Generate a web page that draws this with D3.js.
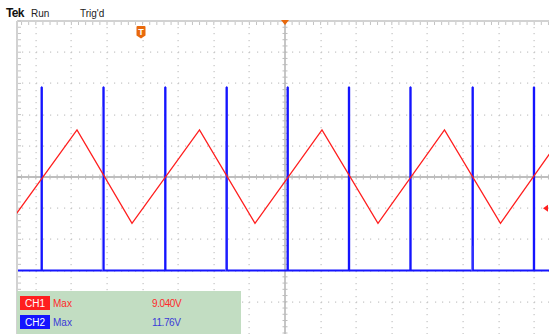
<!DOCTYPE html>
<html>
<head>
<meta charset="utf-8">
<script src="https://cdn.jsdelivr.net/npm/d3@7"></script>
<style>
  html, body { margin: 0; padding: 0; background: #fff; }
  svg { display: block; }
  text { font-family: "Liberation Sans", Arial, sans-serif; }
</style>
</head>
<body>
<svg id="scope" width="549" height="334"></svg>
<script>
// Channel 1: triangle wave vertices (time in divisions from trigger, volts)
const ch1Times = [-7.739, -5.843, -4.298, -2.402, -0.843, 1.039, 2.612, 4.480, 6.053, 7.907];
const ch1Volts = [-8.9, 9.04, -8.9, 9.04, -8.9, 9.04, -8.9, 9.04, -8.9, 9.04];

// Channel 2: pulse edges (time in divisions) and levels (volts)
const ch2EdgeTimes = [-6.834, -5.098, -3.362, -1.638, 0.076, 1.798, 3.525, 5.272, 6.994];
const ch2Low = 0;
const ch2High = 11.76;
// secondary glitch edges beside some pulses: [time, volts]
const ch2GlitchTimes = [-5.13, -1.67, 5.245];
const ch2GlitchVolts = [10.5, 8.3, 1.6];

// Measurement readouts
const measChannels = ["CH1", "CH2"];
const measNames = ["Max", "Max"];
const measValues = ["9.040V", "11.76V"];

// Status line
const statusTexts = ["Run", "Trig'd"];

// Grid layout: divisions
const hDivs = [-7.5, 7.5];
const vDivs = [-5, 5];
const minorPerDiv = 5;

const svg = d3.select("#scope");
const W = 549, H = 334;

const x = d3.scaleLinear().domain(hDivs).range([18, 552]);
const yDiv = d3.scaleLinear().domain(vDivs).range([333, 21]);
// CH1: 6 V/div, no offset; CH2: 2 V/div, offset -3 div
const y1 = d3.scaleLinear().domain([-30, 30]).range([333, 21]);
const y2 = d3.scaleLinear().domain([-4, 16]).range([333, 21]);

const red = "#ff1e1e", blue = "#1414ff", orange = "#e8690c";
const gridCol = "#c4c4c4";

// ---- graticule ----
const grid = svg.append("g");
const plotLeft = 17, plotTop = 21;

// dotted division lines
const colTicks = d3.range(-7, 8).filter(d => d !== 0);
const rowTicks = d3.range(-4, 5).filter(d => d !== 0);
const minorY = d3.range(vDivs[0], vDivs[1] + 0.001, 1 / minorPerDiv);
const minorX = d3.range(-7.4, 7.5, 1 / minorPerDiv);

colTicks.forEach(c => {
  grid.selectAll(null).data(minorY).join("rect")
    .attr("x", Math.round(x(c)) - 0.5).attr("y", d => Math.round(yDiv(d)))
    .attr("width", 1.2).attr("height", 1.2).attr("fill", gridCol);
});
rowTicks.forEach(r => {
  grid.selectAll(null).data(minorX).join("rect")
    .attr("x", d => Math.round(x(d))).attr("y", Math.round(yDiv(r)) - 0.5)
    .attr("width", 1.2).attr("height", 1.2).attr("fill", gridCol);
});

// top and left borders with minor ticks
grid.append("line").attr("x1", plotLeft).attr("x2", W).attr("y1", plotTop).attr("y2", plotTop)
  .attr("stroke", "#d2d2d2").attr("stroke-width", 2);
grid.append("line").attr("x1", plotLeft).attr("x2", plotLeft).attr("y1", plotTop).attr("y2", H)
  .attr("stroke", "#d2d2d2").attr("stroke-width", 2);
grid.selectAll(null).data(minorX).join("line")
  .attr("x1", d => x(d)).attr("x2", d => x(d)).attr("y1", plotTop + 1).attr("y2", plotTop + 4)
  .attr("stroke", gridCol).attr("stroke-width", 1);
grid.selectAll(null).data(minorY).join("line")
  .attr("x1", plotLeft + 1).attr("x2", plotLeft + 4).attr("y1", d => yDiv(d)).attr("y2", d => yDiv(d))
  .attr("stroke", gridCol).attr("stroke-width", 1);

// center crosshair with minor ticks
grid.append("line").attr("x1", plotLeft).attr("x2", W).attr("y1", yDiv(0)).attr("y2", yDiv(0))
  .attr("stroke", "#a8a8a8").attr("stroke-width", 1.3);
grid.append("line").attr("x1", x(0)).attr("x2", x(0)).attr("y1", plotTop).attr("y2", H)
  .attr("stroke", "#a8a8a8").attr("stroke-width", 1.3);
grid.selectAll(null).data(minorX).join("line")
  .attr("x1", d => x(d)).attr("x2", d => x(d)).attr("y1", yDiv(0) - 2.5).attr("y2", yDiv(0) + 2.5)
  .attr("stroke", "#bdbdbd").attr("stroke-width", 1);
grid.selectAll(null).data(minorY).join("line")
  .attr("x1", x(0) - 2.5).attr("x2", x(0) + 2.5).attr("y1", d => yDiv(d)).attr("y2", d => yDiv(d))
  .attr("stroke", "#bdbdbd").attr("stroke-width", 1);

// ---- traces ----
svg.append("clipPath").attr("id", "plotClip")
  .append("rect").attr("x", plotLeft).attr("y", plotTop).attr("width", W - plotLeft).attr("height", H - plotTop);
const traces = svg.append("g").attr("clip-path", "url(#plotClip)");

// CH2 pulse train
const ch2Pts = [[x.domain()[0], ch2Low]];
ch2EdgeTimes.forEach(t => {
  ch2Pts.push([t - 0.005, ch2Low], [t - 0.005, ch2High], [t + 0.005, ch2High], [t + 0.005, ch2Low]);
});
ch2Pts.push([x.domain()[1], ch2Low]);
const line2 = d3.line().x(d => x(d[0])).y(d => y2(d[1]));
traces.append("path").attr("d", line2(ch2Pts))
  .attr("fill", "none").attr("stroke", blue).attr("stroke-width", 2)
  .attr("stroke-linejoin", "bevel");
traces.selectAll(null).data(ch2GlitchTimes).join("line")
  .attr("x1", d => x(d)).attr("x2", d => x(d))
  .attr("y1", y2(ch2Low)).attr("y2", (d, i) => y2(ch2GlitchVolts[i]))
  .attr("stroke", "#7878ff").attr("stroke-width", 1.1);

// CH1 triangle
const line1 = d3.line().x(d => x(d[0])).y(d => y1(d[1]));
traces.append("path").attr("d", line1(ch1Times.map((t, i) => [t, ch1Volts[i]])))
  .attr("fill", "none").attr("stroke", red).attr("stroke-width", 1.3);

// ---- markers ----
// trigger position marker at top center
svg.append("path")
  .attr("d", `M${x(0) - 4},${plotTop - 1} L${x(0) + 4},${plotTop - 1} L${x(0)},${plotTop + 4} Z`)
  .attr("fill", orange);
// trigger "T" badge
const tb = svg.append("g").attr("transform", "translate(141,32)");
tb.append("path").attr("d", "M-4.5,-5 Q-4.5,-6 -3.5,-6 L3.5,-6 Q4.5,-6 4.5,-5 L4.5,3.5 L0,6.5 L-4.5,3.5 Z")
  .attr("fill", orange);
tb.append("text").attr("x", 0).attr("y", 3.3).attr("text-anchor", "middle")
  .attr("font-size", 9).attr("font-weight", "bold").attr("fill", "#fff").text("T");
// trigger level arrow at right edge (CH1 level)
const trigLevel = y1(-6);
svg.append("path")
  .attr("d", `M${W - 6},${trigLevel} L${W - 1},${trigLevel - 3.5} L${W - 1},${trigLevel + 3.5} Z`)
  .attr("fill", red);

// ---- status line ----
svg.append("text").attr("x", 6).attr("y", 17).attr("font-size", 12).attr("font-weight", "bold")
  .attr("letter-spacing", -0.7).attr("fill", "#111").text("Tek");
svg.append("text").attr("x", 31).attr("y", 17).attr("font-size", 10).attr("fill", "#222").text(statusTexts[0]);
svg.append("text").attr("x", 80).attr("y", 17).attr("font-size", 10).attr("fill", "#222").text(statusTexts[1]);

// ---- measurement panel ----
const panel = svg.append("g");
panel.append("rect").attr("x", 17).attr("y", 291).attr("width", 224).attr("height", H - 291)
  .attr("fill", "#c2ddc2");
const rowY = [303, 322];
const chCol = [red, blue];
const txtCol = ["#ff2a2a", "#3a3ad8"];
measChannels.forEach((ch, i) => {
  panel.append("rect").attr("x", 20).attr("y", rowY[i] - 7).attr("width", 30).attr("height", 14)
    .attr("fill", chCol[i]);
  panel.append("text").attr("x", 35).attr("y", rowY[i] + 3.5).attr("text-anchor", "middle")
    .attr("font-size", 10).attr("fill", "#fff").text(ch);
  panel.append("text").attr("x", 53).attr("y", rowY[i] + 3.5)
    .attr("font-size", 10).attr("fill", txtCol[i]).text(measNames[i]);
  panel.append("text").attr("x", 152).attr("y", rowY[i] + 3.5)
    .attr("font-size", 10).attr("letter-spacing", -0.4).attr("fill", txtCol[i]).text(measValues[i]);
});
</script>
</body>
</html>
